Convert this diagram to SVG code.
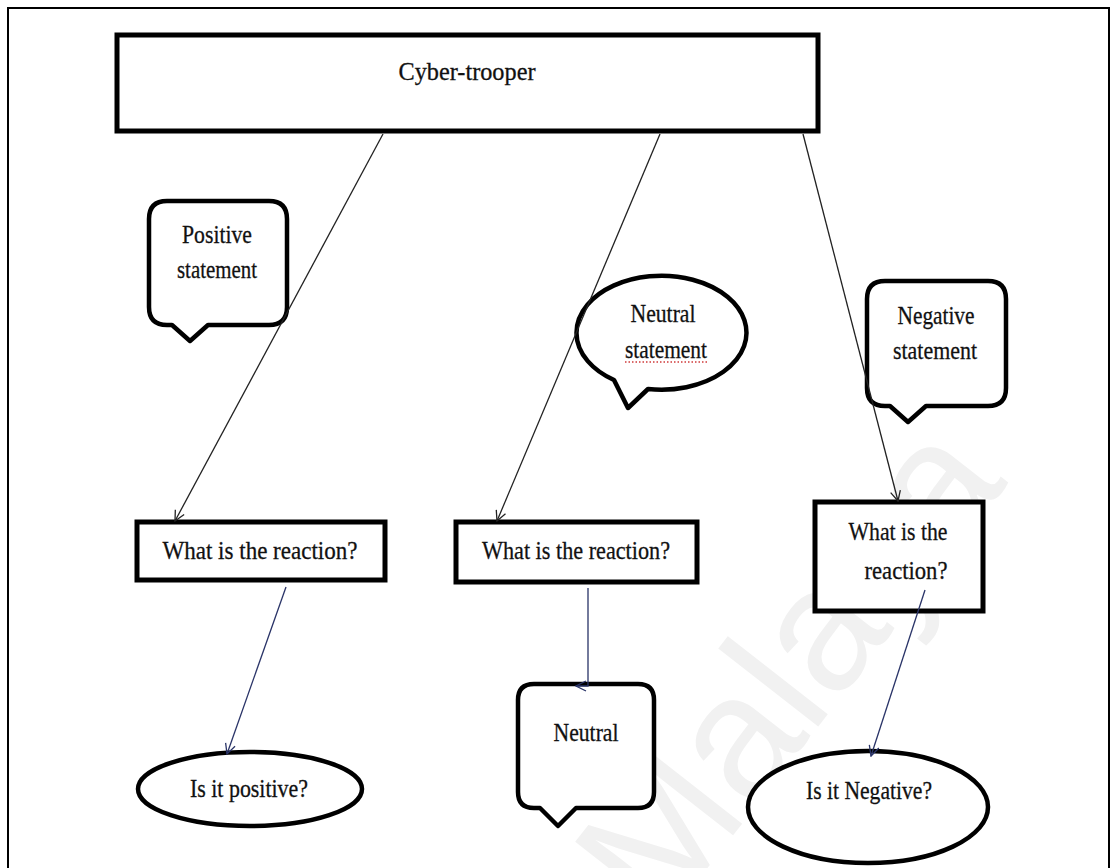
<svg xmlns="http://www.w3.org/2000/svg" width="1115" height="868" viewBox="0 0 1115 868">
  <style>
    .lbl { font-family: "Liberation Serif", "Times New Roman", serif; font-size: 26px; fill: #111; stroke: #111; stroke-width: 0.3; text-anchor: middle; }
    .box { fill: #fff; stroke: #000; stroke-width: 5; }
    .bubble { fill: #fff; stroke: #000; stroke-width: 4.5; stroke-linejoin: round; }
    .oval { fill: #fff; stroke: #000; stroke-width: 4.5; }
    .wire { fill: none; stroke: #222; stroke-width: 1.3; marker-end: url(#head); }
    .wire2 { fill: none; stroke: #2a3468; stroke-width: 1.3; marker-end: url(#head2); }
    .mark { font-family: "Liberation Sans", Arial, sans-serif; font-size: 175px; fill: #f1f1f1; text-anchor: middle; }
  </style>
  <defs>
    <marker id="head" viewBox="0 0 12 12" refX="11" refY="6" markerWidth="12" markerHeight="12" markerUnits="userSpaceOnUse" orient="auto">
      <path d="M1,1 L11,6 L1,11" fill="none" stroke="#222" stroke-width="1.3"/>
    </marker>
    <marker id="head2" viewBox="0 0 12 12" refX="11" refY="6" markerWidth="12" markerHeight="12" markerUnits="userSpaceOnUse" orient="auto">
      <path d="M1,1 L11,6 L1,11" fill="none" stroke="#2a3468" stroke-width="1.3"/>
    </marker>
  </defs>

  <rect width="1115" height="868" fill="#fff"/>
  <!-- faint background lettering -->
  <text class="mark" transform="translate(835,705) rotate(-52)">Malaya</text>

  <!-- page frame -->
  <rect x="8" y="8" width="1101" height="880" fill="none" stroke="#000" stroke-width="2"/>

  <g id="cyber-trooper">
    <rect class="box" x="117" y="35" width="701" height="96"/>
    <text class="lbl" x="467" y="80" textLength="137" lengthAdjust="spacingAndGlyphs">Cyber-trooper</text>
  </g>

  <g id="positive-statement">
    <path class="bubble" d="M167,201 H269 Q287,201 287,219 V307 Q287,325 269,325 H208 L190,341 L172,325 H167 Q149,325 149,307 V219 Q149,201 167,201 Z"/>
    <text class="lbl" x="217" y="243" textLength="70" lengthAdjust="spacingAndGlyphs">Positive</text>
    <text class="lbl" x="217" y="278" textLength="80" lengthAdjust="spacingAndGlyphs">statement</text>
  </g>

  <g id="neutral-statement">
    <path class="bubble" d="M648,389 A85,57 0 1 0 614,380 L628,408 Z"/>
    <text class="lbl" x="663" y="322" textLength="65" lengthAdjust="spacingAndGlyphs">Neutral</text>
    <text class="lbl" x="666" y="358" textLength="82" lengthAdjust="spacingAndGlyphs">statement</text>
    <line x1="625" y1="362" x2="707" y2="362" stroke="#d03a3a" stroke-width="1.5" stroke-dasharray="1.5,2"/>
  </g>

  <g id="negative-statement">
    <path class="bubble" d="M885,281 H988 Q1006,281 1006,299 V388 Q1006,406 988,406 H926 L908,422 L890,406 H885 Q867,406 867,388 V299 Q867,281 885,281 Z"/>
    <text class="lbl" x="936" y="324" textLength="77" lengthAdjust="spacingAndGlyphs">Negative</text>
    <text class="lbl" x="935" y="359" textLength="84" lengthAdjust="spacingAndGlyphs">statement</text>
  </g>

  <g id="reaction-positive">
    <rect class="box" x="137" y="522" width="248" height="58"/>
    <text class="lbl" x="260" y="559" textLength="195" lengthAdjust="spacingAndGlyphs">What is the reaction?</text>
  </g>

  <g id="reaction-neutral">
    <rect class="box" x="456" y="522" width="241" height="60"/>
    <text class="lbl" x="576" y="559" textLength="188" lengthAdjust="spacingAndGlyphs">What is the reaction?</text>
  </g>

  <g id="reaction-negative">
    <rect class="box" x="815" y="502" width="168" height="109"/>
    <text class="lbl" x="898" y="540" textLength="99" lengthAdjust="spacingAndGlyphs">What is the</text>
    <text class="lbl" x="906" y="579" textLength="83" lengthAdjust="spacingAndGlyphs">reaction?</text>
  </g>

  <g id="is-positive">
    <ellipse class="oval" cx="250" cy="789" rx="112" ry="37"/>
    <text class="lbl" x="249" y="797" textLength="118" lengthAdjust="spacingAndGlyphs">Is it positive?</text>
  </g>

  <g id="neutral">
    <path class="bubble" d="M534,684 H638 Q654,684 654,700 V792 Q654,808 638,808 H576 L558,826 L540,808 H534 Q518,808 518,792 V700 Q518,684 534,684 Z"/>
    <text class="lbl" x="586" y="741" textLength="65" lengthAdjust="spacingAndGlyphs">Neutral</text>
  </g>

  <g id="is-negative">
    <ellipse class="oval" cx="868" cy="807" rx="120" ry="56"/>
    <text class="lbl" x="869" y="799" textLength="126" lengthAdjust="spacingAndGlyphs">Is it Negative?</text>
  </g>

  <g id="connectors">
    <line class="wire" x1="383" y1="134" x2="175" y2="521"/>
    <line class="wire" x1="660" y1="134" x2="497" y2="521"/>
    <line class="wire" x1="803" y1="134" x2="898" y2="501"/>
    <line class="wire2" x1="286" y1="587" x2="227" y2="754"/>
    <path class="wire2" d="M588,588 V686 H576"/>
    <line class="wire2" x1="925" y1="590" x2="871" y2="756"/>
  </g>
</svg>
